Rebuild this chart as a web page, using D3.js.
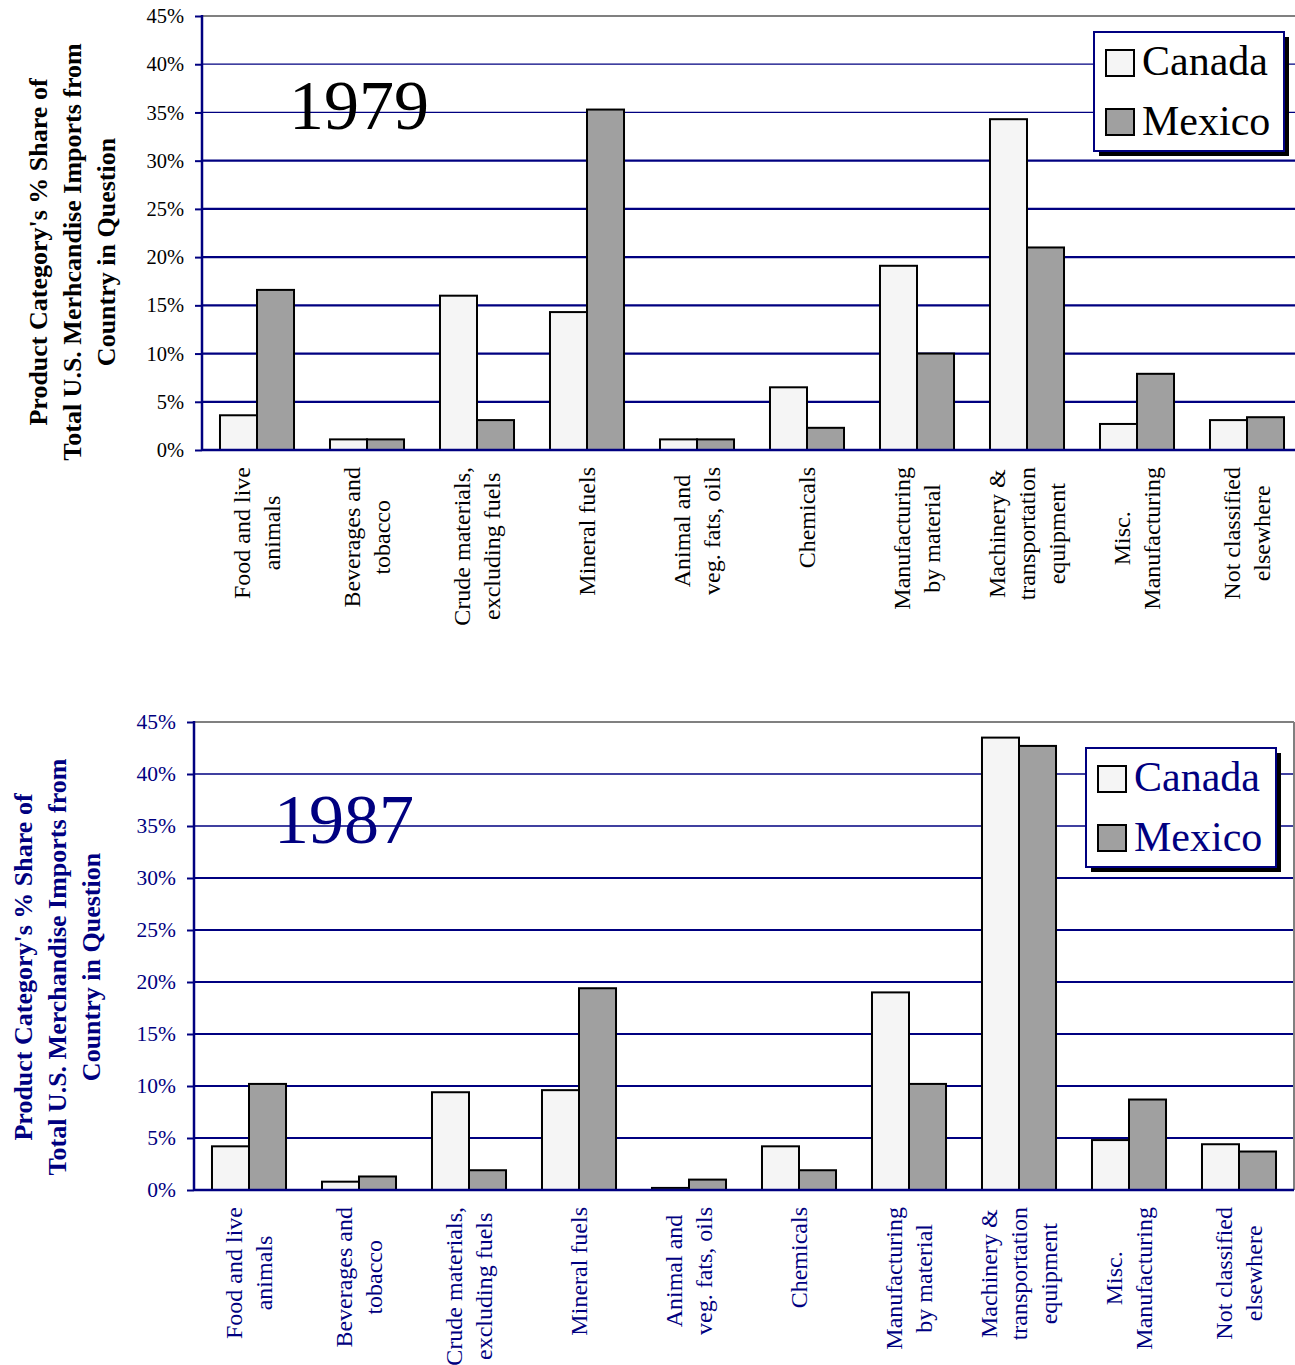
<!DOCTYPE html>
<html>
<head>
<meta charset="utf-8">
<script src="https://cdn.jsdelivr.net/npm/d3@7"></script>
<style>
  body { margin: 0; background: #fff; }
  svg { display: block; font-family: "Liberation Serif", "Times New Roman", serif; }
</style>
</head>
<body>
<div id="chart"></div>
<script>
// category labels, one entry per line of the label
const categories = [
  ["Food and live", "animals"],
  ["Beverages and", "tobacco"],
  ["Crude materials,", "excluding fuels"],
  ["Mineral fuels"],
  ["Animal and", "veg. fats, oils"],
  ["Chemicals"],
  ["Manufacturing", "by material"],
  ["Machinery &", "transportation", "equipment"],
  ["Misc.", "Manufacturing"],
  ["Not classified", "elsewhere"]
];
const series = ["Canada", "Mexico"];

const canada1979 = [3.6, 1.1, 16.0, 14.3, 1.1, 6.5, 19.1, 34.3, 2.7, 3.1];
const mexico1979 = [16.6, 1.1, 3.1, 35.3, 1.1, 2.3, 10.0, 21.0, 7.9, 3.4];
const canada1987 = [4.2, 0.8, 9.4, 9.6, 0.2, 4.2, 19.0, 43.5, 4.8, 4.4];
const mexico1987 = [10.2, 1.3, 1.9, 19.4, 1.0, 1.9, 10.2, 42.7, 8.7, 3.7];

const yTicks = [0, 5, 10, 15, 20, 25, 30, 35, 40, 45];
const yTitle1979 = ["Product Category's % Share of", "Total U.S. Merhcandise Imports from", "Country in Question"];
const yTitle1987 = ["Product Category's % Share of", "Total U.S. Merchandise Imports from", "Country in Question"];

const navy = "#000080";
const fills = { Canada: "#f5f5f5", Mexico: "#a0a0a0" };

const svg = d3.select("#chart").append("svg")
    .attr("width", 1295)
    .attr("height", 1365);

svg.append("rect").attr("width", 1295).attr("height", 1365).attr("fill", "#fff");

function drawPanel(opt) {
  const g = svg.append("g");

  const x = d3.scaleBand()
      .domain(d3.range(categories.length))
      .range([opt.left, opt.right])
      .paddingInner(0.327)
      .paddingOuter(0.1635);
  const xs = d3.scaleBand()
      .domain(series)
      .range([0, x.bandwidth()]);
  const y = d3.scaleLinear()
      .domain([0, 45])
      .range([opt.bottom, opt.top]);

  // gridlines
  g.selectAll(".grid")
    .data(yTicks.filter(d => d > 0 && d < 45))
    .enter().append("line")
      .attr("x1", opt.left).attr("x2", opt.right)
      .attr("y1", d => y(d)).attr("y2", d => y(d))
      .attr("stroke", navy)
      .attr("stroke-width", d => (d == 35 || d == 40) ? 1.3 : 2.2);

  // plot border top / right
  g.append("line")
    .attr("x1", opt.left).attr("x2", opt.right)
    .attr("y1", y(45)).attr("y2", y(45))
    .attr("stroke", "#808080").attr("stroke-width", 2);
  g.append("line")
    .attr("x1", opt.right).attr("x2", opt.right)
    .attr("y1", y(45)).attr("y2", y(0))
    .attr("stroke", "#808080").attr("stroke-width", 2);

  // bars
  const rows = [];
  series.forEach(s => {
    const vals = s == "Canada" ? opt.canada : opt.mexico;
    vals.forEach((v, i) => rows.push({ i: i, s: s, v: v }));
  });
  g.selectAll(".bar")
    .data(rows)
    .enter().append("rect")
      .attr("x", d => x(d.i) + xs(d.s))
      .attr("y", d => y(d.v))
      .attr("width", xs.bandwidth())
      .attr("height", d => y(0) - y(d.v))
      .attr("fill", d => fills[d.s])
      .attr("stroke", "#000")
      .attr("stroke-width", 2);

  // y axis
  const yAxis = g.append("g")
      .attr("transform", "translate(" + opt.left + ",0)")
      .call(d3.axisLeft(y).tickValues(yTicks).tickFormat(d => d + "%").tickSize(7).tickPadding(11));
  yAxis.select(".domain").remove();
  yAxis.selectAll(".tick line").attr("stroke", navy).attr("stroke-width", 2);
  yAxis.selectAll(".tick text")
      .attr("fill", opt.color)
      .style("font-family", "'Liberation Serif', serif")
      .style("font-size", opt.tickSize + "px");

  g.append("line")
    .attr("x1", opt.left).attr("x2", opt.left)
    .attr("y1", y(45) - 1).attr("y2", y(0) + 1)
    .attr("stroke", navy).attr("stroke-width", 2.5);
  g.append("line")
    .attr("x1", opt.left).attr("x2", opt.right)
    .attr("y1", y(0)).attr("y2", y(0))
    .attr("stroke", navy).attr("stroke-width", 2.5);

  // category labels
  categories.forEach((lines, i) => {
    const cx = x(i) + x.bandwidth() / 2;
    const texts = lines.map((t, j) => {
      return g.append("text")
        .attr("text-anchor", "middle")
        .attr("dy", "0.35em")
        .attr("fill", opt.color)
        .style("font-size", "24px")
        .text(t)
        .datum(cx + (j - (lines.length - 1) / 2) * 30);
    });
    const maxW = d3.max(texts, t => t.node().getComputedTextLength());
    texts.forEach(t => {
      t.attr("transform", "translate(" + t.datum() + "," + (y(0) + 17 + maxW / 2) + ") rotate(-90)");
    });
  });

  // y title
  opt.title.forEach((t, j) => {
    g.append("text")
      .attr("transform", "translate(" + opt.titleX[j] + "," + opt.titleY + ") rotate(-90)")
      .attr("text-anchor", "middle")
      .attr("dy", "0.35em")
      .attr("fill", opt.color)
      .style("font-size", "26px")
      .style("font-weight", "bold")
      .text(t);
  });

  // year
  g.append("text")
    .attr("x", opt.yearX).attr("y", opt.yearY)
    .attr("fill", opt.color)
    .style("font-size", "70px")
    .text(opt.year);

  // legend
  const lg = g.append("g").attr("transform", "translate(" + opt.legendX + "," + opt.legendY + ")");
  lg.append("rect").attr("x", 5).attr("y", 5).attr("width", 190).attr("height", 119).attr("fill", "#000");
  lg.append("rect").attr("width", 190).attr("height", 119)
    .attr("fill", "#fff").attr("stroke", navy).attr("stroke-width", 2);
  series.forEach((s, j) => {
    lg.append("rect")
      .attr("x", 12).attr("y", 18 + j * 59)
      .attr("width", 28).attr("height", 26)
      .attr("fill", fills[s]).attr("stroke", "#000").attr("stroke-width", 2);
    lg.append("text")
      .attr("x", 48).attr("y", 43 + j * 60)
      .attr("fill", opt.color)
      .style("font-size", "42px")
      .text(s);
  });
}

drawPanel({
  left: 202, right: 1302, top: 16, bottom: 450,
  canada: canada1979, mexico: mexico1979,
  color: "#000", tickSize: 20.5,
  title: yTitle1979, titleX: [38, 72, 106], titleY: 252,
  year: "1979", yearX: 289, yearY: 129,
  legendX: 1094, legendY: 32
});

drawPanel({
  left: 194, right: 1294, top: 722, bottom: 1190,
  canada: canada1987, mexico: mexico1987,
  color: navy, tickSize: 21.5,
  title: yTitle1987, titleX: [23, 57, 91], titleY: 967,
  year: "1987", yearX: 274, yearY: 843,
  legendX: 1086, legendY: 748
});
</script>
</body>
</html>
